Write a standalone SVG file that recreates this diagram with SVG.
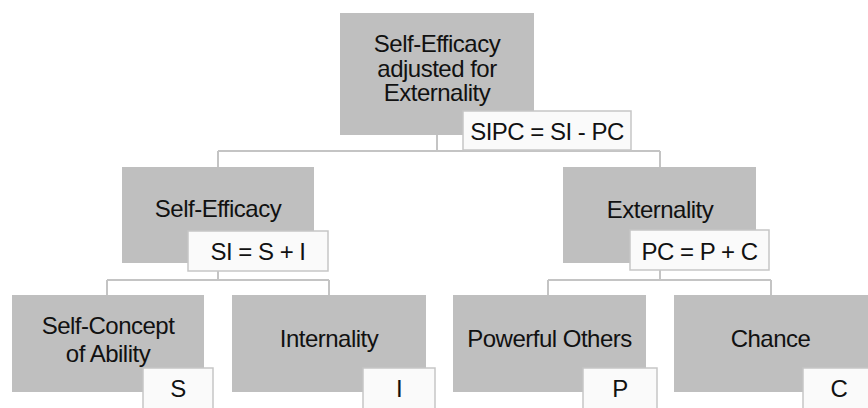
<svg xmlns="http://www.w3.org/2000/svg" width="868" height="408" viewBox="0 0 868 408">
<style>
.box{fill:#bfbfbf;}
.lbl{fill:#fafafa;stroke:#c6c6c6;stroke-width:1.5;}
.t{font-family:"Liberation Sans",Arial,sans-serif;font-size:24px;letter-spacing:-0.5px;fill:#111;text-anchor:middle;}
.c{fill:none;stroke:#c4c4c4;stroke-width:2;}
</style>
<rect width="868" height="408" fill="#fff"/>
<g id="connectors">
<path class="c" d="M437,135 V151 M218,151 H660 M218,151 V167 M660,151 V167"/>
<path class="c" d="M218,271 V280 M107,280 H329 M107,280 V295 M329,280 V295"/>
<path class="c" d="M660,270 V280 M548,280 H771 M548,280 V295 M771,280 V295"/>
</g>
<g id="node-sipc">
<rect class="box" x="340" y="13" width="194" height="122"/>
<text class="t" x="437" y="52">Self-Efficacy</text>
<text class="t" x="437" y="76.5">adjusted for</text>
<text class="t" x="437" y="101">Externality</text>
<rect class="lbl" x="463" y="111" width="168" height="39"/>
<text class="t" x="547" y="140">SIPC = SI - PC</text>
</g>
<g id="node-si">
<rect class="box" x="122" y="167" width="192" height="96"/>
<text class="t" x="218" y="217">Self-Efficacy</text>
<rect class="lbl" x="188" y="231" width="140" height="40"/>
<text class="t" x="258" y="260">SI = S + I</text>
</g>
<g id="node-pc">
<rect class="box" x="563" y="167" width="193" height="96"/>
<text class="t" x="660" y="218">Externality</text>
<rect class="lbl" x="630" y="230" width="139" height="40"/>
<text class="t" x="699.5" y="260">PC = P + C</text>
</g>
<g id="node-s">
<rect class="box" x="12" y="295" width="192" height="97"/>
<text class="t" x="108" y="334">Self-Concept</text>
<text class="t" x="108" y="361.5">of Ability</text>
<rect class="lbl" x="143" y="368" width="70" height="42"/>
<text class="t" x="178" y="397">S</text>
</g>
<g id="node-i">
<rect class="box" x="232" y="295" width="194" height="97"/>
<text class="t" x="329" y="347">Internality</text>
<rect class="lbl" x="363" y="368" width="72" height="42"/>
<text class="t" x="399" y="397">I</text>
</g>
<g id="node-p">
<rect class="box" x="453" y="295" width="193" height="97"/>
<text class="t" x="549.5" y="347">Powerful Others</text>
<rect class="lbl" x="583" y="368" width="74" height="42"/>
<text class="t" x="620" y="397">P</text>
</g>
<g id="node-c">
<rect class="box" x="674" y="295" width="194" height="97"/>
<text class="t" x="770.5" y="347">Chance</text>
<rect class="lbl" x="803" y="368" width="72" height="42"/>
<text class="t" x="839" y="397">C</text>
</g>
</svg>
